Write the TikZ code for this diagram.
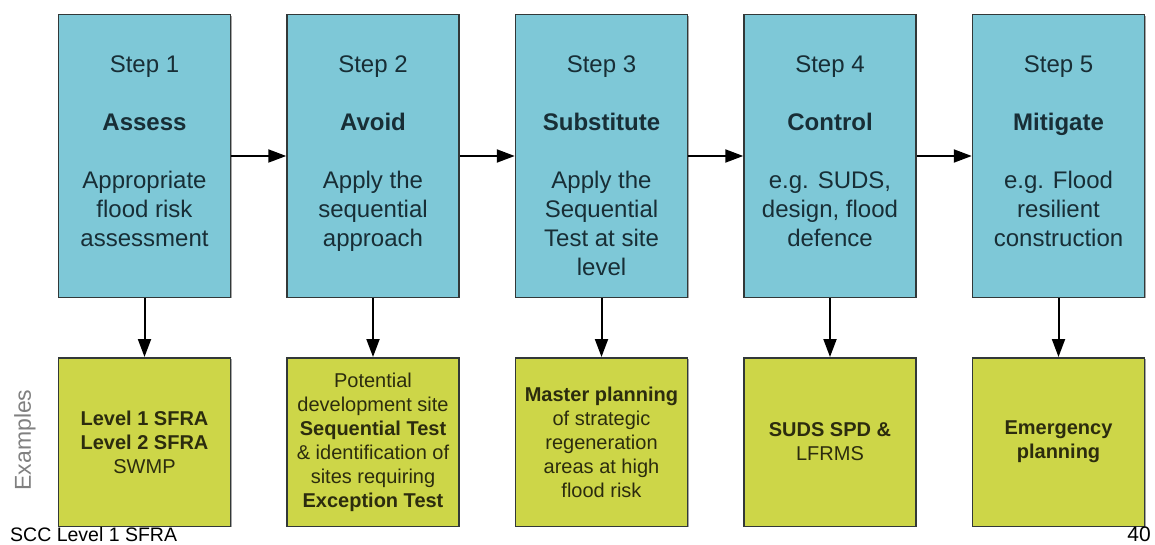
\documentclass[tikz,border=0pt]{standalone}
\usepackage{fontspec}
\setmainfont{Liberation Sans}
\usetikzlibrary{positioning,arrows.meta,shadows}

\definecolor{stepblue}{RGB}{126,200,215}
\definecolor{exyellow}{RGB}{205,214,72}
\definecolor{steptxt}{RGB}{24,46,54}
\definecolor{extxt}{RGB}{44,44,14}
\definecolor{boxline}{RGB}{50,56,56}

\tikzset{
  stepbox/.style={draw=boxline, line width=1.5pt, fill=stepblue,
    minimum width=172pt, minimum height=282.5pt, inner sep=0pt,
    drop shadow={shadow xshift=1.2pt, shadow yshift=-1.2pt, fill=black, opacity=0.35}},
  steptext/.style={align=center, inner sep=0pt, text=steptxt,
    font=\fontsize{24}{29}\selectfont},
  exbox/.style={draw=boxline, line width=1.5pt, fill=exyellow,
    minimum width=172pt, minimum height=168.5pt, inner sep=0pt,
    align=center, text=extxt, font=\fontsize{20}{24}\selectfont,
    drop shadow={shadow xshift=1.2pt, shadow yshift=-1.2pt, fill=black, opacity=0.35}},
  flow/.style={line width=2pt, draw=black, -{Triangle[length=18pt,width=13pt]}}
}

\begin{document}
\begin{tikzpicture}[x=1pt,y=1pt]

  % Page frame
  \useasboundingbox (0,0) rectangle (1155,544);

  % Steps
  \node[stepbox] (step1) at (144.5,388) {};
  \node[stepbox, right=55pt of step1] (step2) {};
  \node[stepbox, right=55pt of step2] (step3) {};
  \node[stepbox, right=55pt of step3] (step4) {};
  \node[stepbox, right=55pt of step4] (step5) {};

  % Step texts
  \node[steptext, below=41.5pt of step1.north] (text1)
    {Step 1\\[29pt]\textbf{Assess}\\[29pt]Appropriate\\flood risk\\assessment};
  \node[steptext, below=41.5pt of step2.north] (text2)
    {Step 2\\[29pt]\textbf{Avoid}\\[29pt]Apply the\\sequential\\approach};
  \node[steptext, below=41.5pt of step3.north] (text3)
    {Step 3\\[29pt]\textbf{Substitute}\\[29pt]Apply the\\Sequential\\Test at site\\level};
  \node[steptext, below=41.5pt of step4.north] (text4)
    {Step 4\\[29pt]\textbf{Control}\\[29pt]e.g. SUDS,\\design, flood\\defence};
  \node[steptext, below=41.5pt of step5.north] (text5)
    {Step 5\\[29pt]\textbf{Mitigate}\\[29pt]e.g. Flood\\resilient\\construction};

  % Examples
  \node[exbox, below=59pt of step1] (ex1)
    {\textbf{Level 1 SFRA}\\\textbf{Level 2 SFRA}\\SWMP};
  \node[exbox, below=59pt of step2] (ex2)
    {Potential\\development site\\\textbf{Sequential Test}\\\& identification of\\sites requiring\\\textbf{Exception Test}};
  \node[exbox, below=59pt of step3] (ex3)
    {\textbf{Master planning}\\of strategic\\regeneration\\areas at high\\flood risk};
  \node[exbox, below=59pt of step4] (ex4)
    {\textbf{SUDS SPD \&}\\LFRMS};
  \node[exbox, below=59pt of step5] (ex5)
    {\textbf{Emergency}\\\textbf{planning}};

  % Arrows between steps
  \draw[flow] (step1) -- (step2);
  \draw[flow] (step2) -- (step3);
  \draw[flow] (step3) -- (step4);
  \draw[flow] (step4) -- (step5);

  % Arrows down to examples
  \draw[flow] (step1) -- (ex1);
  \draw[flow] (step2) -- (ex2);
  \draw[flow] (step3) -- (ex3);
  \draw[flow] (step4) -- (ex4);
  \draw[flow] (step5) -- (ex5);

  % Side label and footer
  \node[rotate=90, text=black!50, font=\fontsize{23}{27}\selectfont] (exlabel) at (25,104) {Examples};
  \node[anchor=base west, inner sep=0pt, font=\fontsize{19.5}{24}\selectfont] (footer) at (10,2.5) {SCC Level 1 SFRA};
  \node[anchor=base east, inner sep=0pt, font=\fontsize{21}{26}\selectfont] (pagenum) at (1151,2.5) {40};

\end{tikzpicture}
\end{document}
